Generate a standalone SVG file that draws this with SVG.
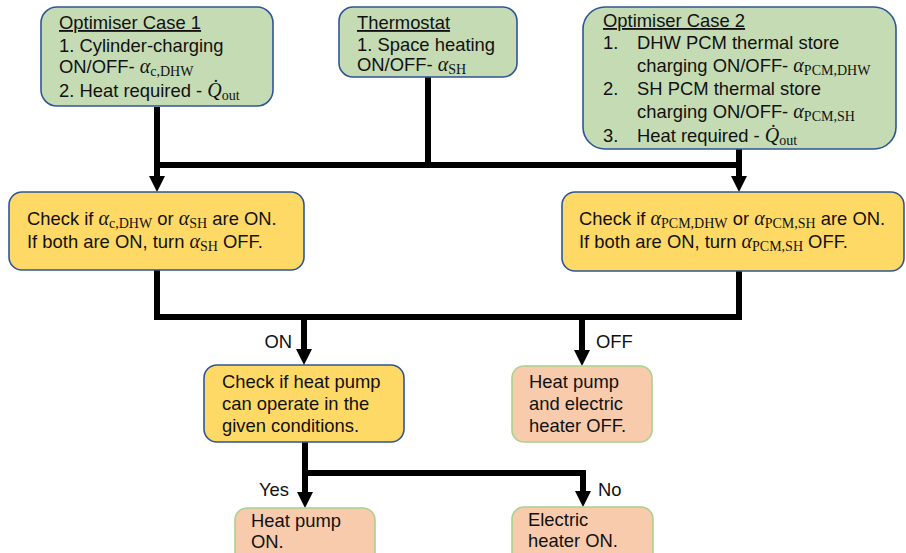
<svg xmlns="http://www.w3.org/2000/svg" width="906" height="553" viewBox="0 0 906 553">
<defs>
<style>
text{font-family:"Liberation Sans",Arial,sans-serif;font-size:18.4px;fill:#111}
.m{font-family:"Liberation Serif","DejaVu Serif",serif;font-style:italic;font-size:20px}
.s{font-family:"Liberation Serif","DejaVu Serif",serif;font-size:14px}
.g{fill:#C5DBB4;stroke:#2F5597;stroke-width:1.6}
.y{fill:#FFD966;stroke:#2F5597;stroke-width:1.6}
.p{fill:#F8CBAD;stroke:#A9D18E;stroke-width:1.6}
.c{fill:none;stroke:#000;stroke-width:6;stroke-linejoin:miter}
.a{marker-end:url(#ah)}
</style>
<marker id="ah" viewBox="0 0 17 16" refX="0" refY="8" markerWidth="17" markerHeight="16" orient="auto" markerUnits="userSpaceOnUse">
<path d="M0,0 L16,8 L0,16 z" fill="#000"/>
</marker>
</defs>
<rect width="906" height="553" fill="#fff"/>

<g id="connectors">
<path class="c" d="M157,107 V165 H739 V149"/>
<path class="c" d="M428,77 V165"/>
<path class="c a" d="M157,162 V176"/>
<path class="c a" d="M739,162 V176"/>
<path class="c" d="M157,270 V317 H739 V271"/>
<path class="c a" d="M304,314 V349"/>
<path class="c a" d="M582,314 V350"/>
<path class="c" d="M305,442 V473 H583"/>
<path class="c a" d="M305,470 V492"/>
<path class="c a" d="M583,470 V491"/>
</g>

<g id="optimiser1">
<rect class="g" x="41" y="7" width="232" height="99" rx="16"/>
<text x="59" y="29" text-decoration="underline">Optimiser Case 1</text>
<text x="59" y="52">1. Cylinder-charging</text>
<text x="59" y="73">ON/OFF- <tspan class="m">α</tspan><tspan class="s" dy="3">c,DHW</tspan></text>
<text x="59" y="97">2. Heat required - <tspan class="m">Q̇</tspan><tspan class="s" dy="3">out</tspan></text>
</g>

<g id="thermostat">
<rect class="g" x="339" y="7" width="178" height="70" rx="14"/>
<text x="357" y="29" text-decoration="underline">Thermostat</text>
<text x="357" y="51">1. Space heating</text>
<text x="357" y="71">ON/OFF- <tspan class="m">α</tspan><tspan class="s" dy="3">SH</tspan></text>
</g>

<g id="optimiser2">
<rect class="g" x="583" y="7" width="313" height="142" rx="22"/>
<text x="603" y="27" text-decoration="underline">Optimiser Case 2</text>
<text x="603" y="49">1.</text>
<text x="637" y="49">DHW PCM thermal store</text>
<text x="637" y="72">charging ON/OFF- <tspan class="m">α</tspan><tspan class="s" dy="3">PCM,DHW</tspan></text>
<text x="603" y="95">2.</text>
<text x="637" y="95">SH PCM thermal store</text>
<text x="637" y="118">charging ON/OFF- <tspan class="m">α</tspan><tspan class="s" dy="3">PCM,SH</tspan></text>
<text x="603" y="142">3.</text>
<text x="637" y="142">Heat required - <tspan class="m">Q̇</tspan><tspan class="s" dy="3">out</tspan></text>
</g>

<g id="check1">
<rect class="y" x="9" y="192" width="295" height="78" rx="13"/>
<text x="27" y="225">Check if <tspan class="m">α</tspan><tspan class="s" dy="3">c,DHW</tspan><tspan dy="-3"> or </tspan><tspan class="m">α</tspan><tspan class="s" dy="3">SH</tspan><tspan dy="-3"> are ON.</tspan></text>
<text x="27" y="248">If both are ON, turn <tspan class="m">α</tspan><tspan class="s" dy="3">SH</tspan><tspan dy="-3"> OFF.</tspan></text>
</g>

<g id="check2">
<rect class="y" x="562" y="192" width="342" height="79" rx="13"/>
<text x="579" y="225">Check if <tspan class="m">α</tspan><tspan class="s" dy="3">PCM,DHW</tspan><tspan dy="-3"> or </tspan><tspan class="m">α</tspan><tspan class="s" dy="3">PCM,SH</tspan><tspan dy="-3"> are ON.</tspan></text>
<text x="579" y="248">If both are ON, turn <tspan class="m">α</tspan><tspan class="s" dy="3">PCM,SH</tspan><tspan dy="-3"> OFF.</tspan></text>
</g>

<g id="labels">
<text x="292" y="348" text-anchor="end">ON</text>
<text x="596" y="348">OFF</text>
<text x="289" y="496" text-anchor="end">Yes</text>
<text x="598" y="496">No</text>
</g>

<g id="checkhp">
<rect class="y" x="204" y="365" width="200" height="77" rx="13"/>
<text x="222" y="388">Check if heat pump</text>
<text x="222" y="410">can operate in the</text>
<text x="222" y="432">given conditions.</text>
</g>

<g id="alloff">
<rect class="p" x="512" y="366" width="140" height="76" rx="12"/>
<text x="529" y="388">Heat pump</text>
<text x="529" y="410">and electric</text>
<text x="529" y="432">heater OFF.</text>
</g>

<g id="hpon">
<rect class="p" x="235" y="508" width="140" height="60" rx="12"/>
<text x="251" y="527">Heat pump</text>
<text x="251" y="548">ON.</text>
</g>

<g id="ehon">
<rect class="p" x="512" y="507" width="141" height="60" rx="12"/>
<text x="528" y="526">Electric</text>
<text x="528" y="547">heater ON.</text>
</g>
</svg>
